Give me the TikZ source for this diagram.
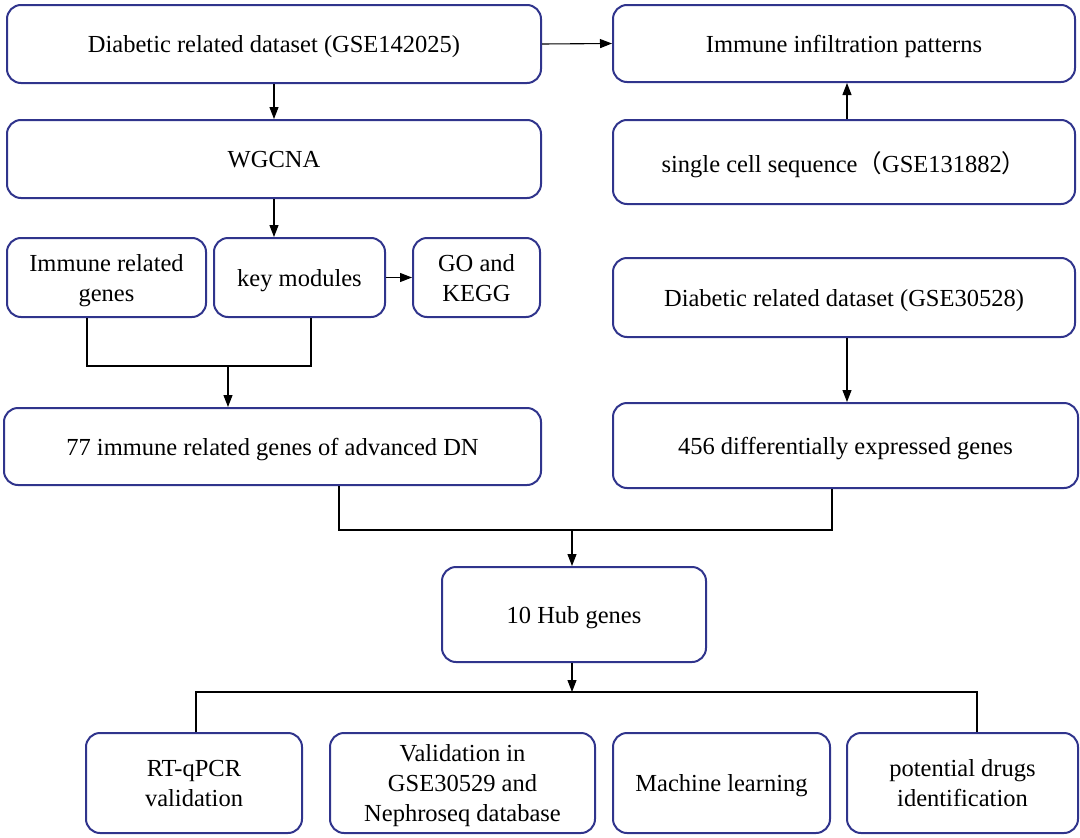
\documentclass[tikz,border=0pt]{standalone}
\usepackage{fontspec}
\setmainfont{Liberation Serif}
\newfontfamily\cjk{Noto Sans CJK SC}
\usetikzlibrary{arrows.meta}
\definecolor{boxblue}{RGB}{48,52,140}
\tikzset{
  bx/.style={draw=boxblue, line width=2pt, rounded corners=14pt, inner sep=0pt,
    align=center, font=\fontsize{24.5}{30}\selectfont, text=black, text depth=0pt},
  ln/.style={draw=black, line width=1.1pt},
  arr/.style={ln, -{Triangle[length=12pt,width=9pt]}}
}
\newcommand{\bxnode}[6]{% name, x1, y1, x2, y2, text
  \node[bx, minimum width={(#4)-(#2)}, minimum height={(#5)-(#3)}] (#1) at ({((#2)+(#4))/2},{((#3)+(#5))/2}) {#6};}
\begin{document}
\begin{tikzpicture}[x=1pt,y=-1pt]
\useasboundingbox (0,0) rectangle (1080,838);
\bxnode{A}{7}{5}{541}{83}{Diabetic related dataset (GSE142025)}
\bxnode{B}{613}{5}{1075}{82}{Immune infiltration patterns}
\bxnode{W}{7}{120}{541}{198}{WGCNA}
\bxnode{S}{613}{120}{1075}{204}{single cell sequence{\cjk （}GSE131882{\cjk ）}}
\bxnode{IR}{7}{238}{206}{317}{Immune related\\genes}
\bxnode{KM}{214}{238}{385}{317}{key modules}
\bxnode{GO}{413}{238}{540}{317}{GO and\\KEGG}
\bxnode{D2}{613}{258}{1075}{337}{Diabetic related dataset (GSE30528)}
\bxnode{G77}{4}{408}{541}{485}{77 immune related genes of advanced DN}
\bxnode{G456}{613}{403}{1078}{488}{456 differentially expressed genes}
\bxnode{H}{442}{567}{706}{662}{10 Hub genes}
\bxnode{RT}{86}{733}{302}{833}{RT-qPCR\\validation}
\bxnode{V}{330}{733}{595}{833}{Validation in\\GSE30529 and\\Nephroseq database}
\bxnode{ML}{613}{733}{830}{833}{Machine learning}
\bxnode{PD}{847}{733}{1078}{833}{potential drugs\\identification}
% connectors
\draw[arr] (A.east) -- (B.west);
\draw[arr] (A.south) -- (W.north);
\draw[arr] (W.south) -- (W.south |- KM.north);
\coordinate (sx) at (847,0);
\draw[arr] (sx |- S.north) -- (sx |- B.south);
\draw[arr] (KM.east) -- (GO.west);
\coordinate (m1) at (87,366);
\coordinate (m2) at (311,366);
\coordinate (m) at (228,366);
\draw[ln] (m1 |- IR.south) -- (m1) -- (m2) -- (m2 |- KM.south);
\draw[arr] (m) -- (m |- G77.north);
\draw[arr] (sx |- D2.south) -- (sx |- G456.north);
\coordinate (n1) at (339,530);
\coordinate (n2) at (832,530);
\coordinate (n) at (572,530);
\draw[ln] (n1 |- G77.south) -- (n1) -- (n2) -- (n2 |- G456.south);
\draw[arr] (n) -- (n |- H.north);
\coordinate (p1) at (196,692);
\coordinate (p2) at (977,692);
\coordinate (p) at (572,692);
\draw[arr] (p |- H.south) -- (p);
\draw[ln] (p1 |- RT.north) -- (p1) -- (p2) -- (p2 |- PD.north);
\end{tikzpicture}
\end{document}
